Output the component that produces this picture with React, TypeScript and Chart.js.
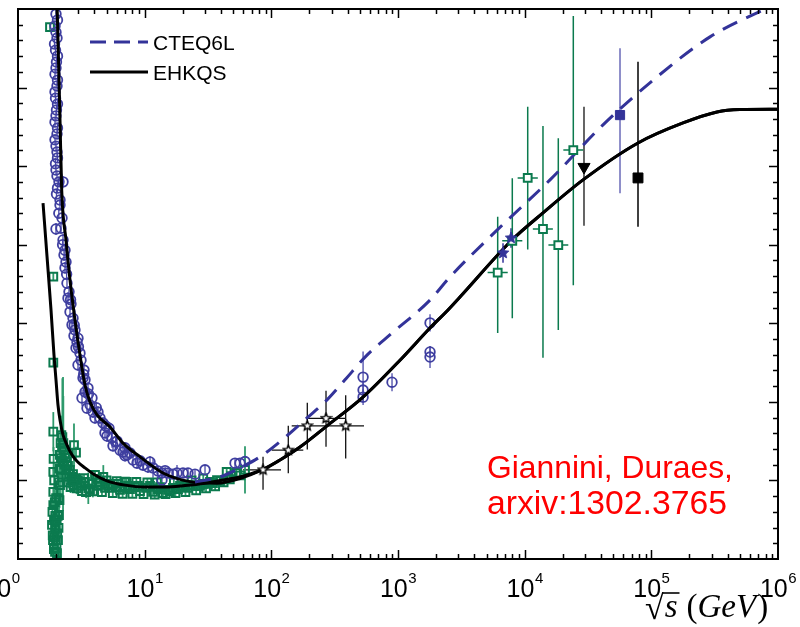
import React, { useEffect, useRef } from 'react';
import { Chart, registerables } from 'chart.js';

Chart.register(...registerables);

// ---------- data (sqrt(s) in GeV, sigma in mb) ----------
const X_TICK_VALUES = [1, 10, 100, 1e3, 1e4, 1e5, 1e6];
const X_TICK_EXPONENTS = ['0', '1', '2', '3', '4', '5', '6'];
const Y_MIN = 20;
const Y_MAX = 160;
const Y_MINOR = 4;
const Y_MAJOR = 20;

const LEGEND_LABELS = ['CTEQ6L', 'EHKQS'];
const NOTE_LINES = ['Giannini, Duraes,', 'arxiv:1302.3765'];

// CTEQ6L curve
const cteq6l: [number, number][] = [
  [24.97, 39.6], [39.33, 40.9], [56.58, 43.2], [81.39, 46.0], [121.4, 50.3], [191.2, 55.9],
  [275.2, 60.5], [381.5, 65.6], [569.2, 71.9], [896.9, 77.5], [1789, 85.9], [2574, 91.8],
  [6048, 103.7], [15850, 116.5], [41540, 130.5], [110800, 142.7], [290500, 152.9],
  [761500, 159.7], [1e6, 161.3],
];

// EHKQS curves: low-energy branches + common high-energy branch
const ehkqsPPLow: [number, number][] = [
  [1.576, 110.6], [1.694, 97.1], [1.822, 83.4], [1.924, 71.9], [1.995, 65.6], [2.069, 59.2],
  [2.146, 55.4], [2.267, 51.6], [2.436, 49.0], [2.669, 46.5], [2.923, 44.9], [3.381, 43.2],
  [4.054, 41.4], [5.042, 39.9], [6.994, 38.8], [10.06, 38.3], [14.47, 38.3], [20.82, 38.7],
  [29.95, 39.3], [43.08, 40.2], [59.75, 41.1],
];
const ehkqsPPbarLow: [number, number][] = [
  [2.03, 162.3], [2.088, 147.0], [2.146, 131.7], [2.213, 113.9], [2.393, 101.2], [2.574, 91.0],
  [2.818, 80.8], [3.086, 71.9], [3.381, 64.3], [3.702, 60.0], [4.205, 56.7], [5.325, 53.6],
  [6.746, 49.5], [9.188, 46.0], [13.95, 41.9], [22.8, 39.7], [37.24, 39.3], [56.58, 40.5],
];
const ehkqsCommon: [number, number][] = [
  [85.97, 42.8], [117.1, 45.2], [168.4, 48.5], [275.2, 53.9], [529.3, 61.2], [1037, 70.6],
  [1789, 78.8], [2482, 83.4], [3086, 86.7], [7943, 101.2], [13950, 108.1], [28880, 116.5],
  [78480, 125.9], [177800, 131.0], [330000, 133.8], [501200, 134.4], [1e6, 134.5],
];

// p-pbar data: [sqrt(s), sigma, error]
const ppbarData: [number, number, number][] = [
  [1.995, 158.7, 1.2], [2.05, 157.2, 1.2], [1.96, 155.7, 1.2], [1.995, 154.1, 1.2], [2.032, 152.6, 1.2],
  [1.942, 151.1, 1.2], [1.978, 149.5, 1.2], [2.05, 148.0, 1.2], [2.013, 146.5, 1.2], [1.995, 145.0, 1.2],
  [1.96, 143.4, 1.2], [2.05, 141.9, 1.2], [2.032, 140.4, 1.2], [1.96, 138.9, 1.2], [1.978, 137.3, 1.2],
  [2.05, 135.8, 1.2], [2.013, 134.3, 1.2], [1.995, 132.8, 1.2], [1.96, 131.2, 1.2], [2.05, 129.7, 1.2],
  [2.032, 128.2, 1.2], [1.96, 126.7, 1.2], [1.995, 125.1, 1.2], [2.032, 123.6, 1.2], [2.05, 122.1, 1.2],
  [1.978, 120.6, 1.2], [1.995, 119.0, 1.2], [2.032, 117.5, 1.2], [2.107, 116.0, 1.2], [2.267, 116.0, 1.5],
  [2.05, 114.4, 1.2], [2.013, 112.9, 1.2], [2.146, 111.4, 1.2], [2.146, 110.1, 1.2], [2.226, 106.8, 1.2],
  [2.185, 104.2, 1.2], [1.995, 104.0, 1.5], [2.267, 101.2, 1.5], [2.35, 98.6, 1.5], [2.308, 97.4, 1.5],
  [2.393, 95.6, 1.5], [2.35, 94.1, 1.5], [2.436, 90.2, 1.5], [2.527, 88.0, 1.5], [2.481, 86.4, 1.5],
  [2.62, 84.9, 1.5], [2.574, 82.9, 1.5], [2.718, 81.3, 1.5], [2.669, 79.6, 1.5], [2.818, 78.3, 1.5],
  [2.767, 76.8, 1.5], [2.976, 76.2, 1.5], [2.923, 75.2, 1.5], [2.87, 73.7, 1.5], [3.086, 72.4, 1.5],
  [3.144, 70.6, 1.5], [2.976, 69.4, 1.5], [3.319, 68.1, 1.5], [3.261, 66.1, 1.5], [3.381, 65.6, 1.5],
  [3.569, 63.5, 1.5], [3.381, 62.5, 1.5], [3.201, 61.0, 2], [3.839, 61.0, 1.5], [3.702, 59.2, 1.5],
  [3.505, 58.4, 1.5], [3.909, 57.4, 1.5], [4.281, 57.4, 1.5], [4.054, 55.9, 1.5], [4.44, 55.9, 1.5],
  [4.69, 54.6, 1.5], [5.228, 53.3, 1.5], [4.862, 52.1, 1.5], [5.042, 51.3, 1.5], [5.522, 50.8, 2.5],
  [6.047, 50.0, 1.5], [5.623, 48.8, 1.5], [6.994, 48.3, 1.5], [6.389, 47.7, 1.5], [6.746, 47.2, 1.5],
  [7.66, 47.0, 1.5], [7.253, 46.5, 1.5], [8.09, 45.2, 1.5], [11.02, 44.7, 1.5], [8.701, 44.4, 1.5],
  [9.701, 43.9, 1.5], [10.62, 43.4, 1.5], [11.64, 43.2, 2.5], [12.74, 42.4, 1], [13.7, 41.9, 1],
  [13.7, 40.1, 1], [15.29, 41.9, 1], [16.73, 41.6, 1], [18.0, 41.9, 2], [20.07, 41.9, 1],
  [21.98, 41.9, 1], [24.97, 41.6, 1], [29.95, 42.7, 1], [51.68, 44.4, 1], [56.58, 44.4, 1],
  [61.96, 44.8, 1], [530, 66.3, 6.5], [530, 63.0, 2], [530, 61.2, 2], [897, 65.0, 2.3],
  [1790, 80.1, 2.2], [1790, 72.7, 1.5], [1790, 71.4, 2.8],
  [2.1, 108.0, 1.2], [2.25, 100.0, 1.5], [2.42, 92.5, 1.5], [2.6, 86.0, 1.5], [2.78, 79.5, 1.5],
  [3.0, 74.0, 1.5], [3.3, 67.0, 1.5], [3.6, 62.0, 1.5], [4.15, 58.5, 1.5], [4.95, 53.8, 1.5],
  [5.9, 49.8, 1.5], [7.0, 46.3, 1.5], [9.2, 45.0, 1.5], [14.5, 42.5, 1],
];

// p-p accelerator data: [sqrt(s), sigma, error]
const ppData: [number, number, number][] = [
  [1.789, 155.4, 1], [1.9, 91.9, 1], [1.9, 70.0, 1], [1.9, 52.4, 5], [1.9, 42.2, 1], [1.9, 37.1, 1],
  [1.9, 33.7, 1], [1.855, 28.7, 1.5], [1.889, 24.8, 2], [1.924, 29.9, 2], [1.96, 27.4, 2], [1.96, 21.8, 1.5],
  [1.995, 24.8, 2], [2.013, 22.8, 1.5], [2.032, 21.5, 1.5], [2.069, 24.8, 2], [2.088, 27.9, 2],
  [2.107, 31.2, 2], [2.126, 35.0, 2], [2.146, 38.8, 2], [2.165, 42.7, 2], [2.185, 45.7, 2],
  [2.226, 48.3, 2], [2.267, 49.3, 17], [2.308, 47.7, 2], [2.35, 46.5, 2], [2.393, 45.7, 1.5],
  [2.436, 44.7, 1.5], [2.481, 43.7, 1.5], [2.574, 42.7, 1.5], [2.654, 40.9, 1], [2.718, 41.6, 1],
  [2.767, 49.0, 5.5], [2.87, 47.1, 1.5], [2.818, 40.6, 1], [2.976, 40.1, 1], [3.184, 39.3, 1],
  [3.381, 39.6, 1], [3.589, 38.0, 4], [3.839, 39.1, 1], [4.054, 41.4, 1], [4.281, 38.6, 1],
  [4.715, 40.9, 3], [4.862, 38.1, 1], [5.133, 38.6, 1], [5.522, 38.1, 1], [5.939, 38.3, 1],
  [6.389, 37.6, 1], [6.994, 39.7, 1], [6.994, 38.1, 1], [7.66, 37.8, 1], [8.389, 38.3, 1],
  [9.188, 37.3, 1], [10.24, 38.1, 1], [11.64, 37.1, 1], [12.74, 37.8, 1], [13.95, 36.8, 1],
  [15.29, 37.6, 1], [16.73, 38.1, 1], [18.33, 37.8, 1], [20.07, 38.3, 1], [21.98, 38.1, 1],
  [24.07, 38.6, 1], [26.37, 38.6, 1], [28.88, 39.1, 1], [31.62, 39.1, 1], [34.63, 39.3, 1],
  [39.33, 39.9, 1], [44.4, 42.2, 1], [48.04, 41.1, 1], [52.62, 41.9, 1], [61.96, 42.7, 6],
  [2.393, 42.7, 1], [2.527, 41.6, 1], [2.669, 40.1, 1], [3.086, 38.6, 1], [3.319, 40.6, 1],
  [3.702, 37.6, 1], [4.44, 39.6, 1], [5.325, 39.1, 1], [6.16, 39.1, 1], [7.387, 38.6, 1],
  [8.86, 38.6, 1], [11.02, 38.6, 1], [13.22, 38.3, 1], [15.85, 37.3, 1], [19.01, 38.6, 1],
  [22.8, 38.8, 1], [27.35, 38.6, 1], [32.8, 39.6, 1], [37.24, 40.1, 1],
  [1.91, 45.5, 3], [1.93, 40.0, 3], [1.95, 34.5, 3], [1.97, 31.0, 3], [1.99, 28.5, 3], [2.0, 35.5, 3],
  [2.02, 30.0, 3], [2.04, 26.5, 3], [2.06, 31.0, 3], [2.08, 35.5, 3], [2.1, 39.5, 3], [2.12, 43.0, 3],
  [2.14, 46.5, 3], [2.17, 49.5, 4], [2.2, 51.5, 5], [2.24, 51.0, 15], [2.28, 49.5, 12], [1.87, 32.0, 3],
  [1.88, 26.0, 3], [1.92, 22.5, 2], [1.94, 25.5, 3], [2.25, 45.0, 2], [2.32, 44.0, 2], [2.4, 41.0, 1.5],
  [2.5, 39.5, 1.5], [2.6, 38.3, 1.5], [2.75, 38.8, 1.5], [2.9, 38.0, 1.5], [3.2, 37.3, 1.5],
  [3.45, 37.0, 1.5], [3.9, 37.2, 1.5], [4.6, 37.0, 1], [5.6, 36.8, 1], [6.7, 36.6, 1], [8.0, 36.6, 1],
  [9.8, 36.5, 1], [12.0, 36.4, 1], [14.6, 36.5, 1], [17.5, 36.8, 1], [21.0, 37.0, 1], [25.5, 37.5, 1],
  [30.5, 38.0, 1], [36.0, 38.5, 1], [42.0, 39.5, 1], [47.0, 40.3, 1], [57.0, 41.3, 1],
  [4.2, 40.4, 1], [5.0, 40.0, 1], [6.0, 39.8, 1], [7.2, 39.6, 1], [8.6, 39.6, 1], [10.5, 39.5, 1],
  [12.5, 39.5, 1], [17.0, 39.8, 1], [23.5, 40.0, 1], [29.0, 40.5, 1],
];

// cosmic-ray p-p points: [sqrt(s), sigma, errUp, errDown, sLow, sHigh]
const cosmicData: [number, number, number, number, number, number][] = [
  [6124, 92.9, 14.2, 15.4, 5100, 7350],
  [7986, 101.0, 15.9, 19.7, 6650, 9580],
  [10570, 117.0, 18.1, 18.2, 8800, 12700],
  [13950, 104.0, 26.2, 32.8, 11600, 16700],
  [18430, 99.9, 27.2, 21.6, 15400, 22100],
  [24210, 124.1, 34.1, 34.4, 20200, 29000],
];

// stars (collider, 100-400 GeV): [sqrt(s), sigma, errUp, errDown, sLow, sHigh]
const starData: [number, number, number, number, number, number][] = [
  [86.0, 42.7, 3.3, 5.1, 59.75, 119.2],
  [136.1, 47.7, 6.2, 5.9, 100.7, 178.8],
  [192.3, 53.9, 5.9, 6.0, 144.8, 273.6],
  [270.2, 55.8, 7.0, 7.2, 192.3, 381.5],
  [386.4, 53.9, 7.8, 8.3, 270.2, 539],
];

// LHC points (blue stars)
const lhcData: [number, number, number, number, number, number][] = [
  [6746, 97.9, 2.5, 2.5, 6300, 7200],
  [7801, 101.7, 2.5, 2.5, 7300, 8300],
];

// high-energy single points
const augerBlue: [number, number, number, number][] = [[56580, 133.0, 17.0, 19.9]];
const blackSquare: [number, number, number, number][] = [[78480, 117.0, 29.6, 12.4]];
const blackTriangle: [number, number, number, number][] = [[29400, 119.8, 15.3, 15.0]];

// ---------- styles ----------
const NAVY = '#333399';
const CIRCLE_BLUE = '#3f3fa0';
const GREEN = '#0b7a4e';

function makeStar(size: number, fill: string, stroke: string, lw: number) {
  const c = document.createElement('canvas');
  c.width = size;
  c.height = size;
  const g = c.getContext('2d')!;
  const cx = size / 2, cy = size / 2;
  const R = size / 2 - lw, r = R * 0.45;
  g.beginPath();
  for (let i = 0; i < 10; i++) {
    const ang = -Math.PI / 2 + (i * Math.PI) / 5;
    const rad = i % 2 === 0 ? R : r;
    const px = cx + rad * Math.cos(ang), py = cy + rad * Math.sin(ang);
    if (i === 0) g.moveTo(px, py); else g.lineTo(px, py);
  }
  g.closePath();
  g.fillStyle = fill;
  g.fill();
  g.lineWidth = lw;
  g.strokeStyle = stroke;
  g.stroke();
  return c;
}

const errorBarPlugin = {
  id: 'errorBars',
  beforeDatasetsDraw(chart: any) {
    const { ctx, chartArea: a, scales } = chart;
    const x = scales.x, y = scales.y;
    ctx.save();
    ctx.beginPath();
    ctx.rect(a.left, a.top, a.right - a.left, a.bottom - a.top);
    ctx.clip();
    chart.data.datasets.forEach((ds: any) => {
      if (!ds.errUp) return;
      ctx.strokeStyle = ds.errColor;
      ctx.lineWidth = ds.errWidth || 1.2;
      ds.data.forEach((p: any, i: number) => {
        const px = x.getPixelForValue(p.x);
        const py = y.getPixelForValue(p.y);
        ctx.beginPath();
        ctx.moveTo(px, y.getPixelForValue(p.y - ds.errDown[i]));
        ctx.lineTo(px, y.getPixelForValue(p.y + ds.errUp[i]));
        if (ds.sLow) {
          ctx.moveTo(x.getPixelForValue(ds.sLow[i]), py);
          ctx.lineTo(x.getPixelForValue(ds.sHigh[i]), py);
        }
        ctx.stroke();
      });
    });
    ctx.restore();
  },
};

const decorPlugin = {
  id: 'decor',
  afterDraw(chart: any) {
    const { ctx, chartArea: a, scales } = chart;
    const x = scales.x, y = scales.y;
    ctx.save();
    // frame
    ctx.strokeStyle = '#000';
    ctx.lineWidth = 2;
    ctx.strokeRect(a.left, a.top, a.right - a.left, a.bottom - a.top);
    // ticks (inward)
    ctx.lineWidth = 1.5;
    ctx.beginPath();
    for (let k = 0; k < 6; k++) {
      for (let m = 1; m < 10; m++) {
        const v = m * Math.pow(10, k);
        if (v <= 1) continue;
        const px = Math.round(x.getPixelForValue(v)) + 0.5;
        const len = m === 1 ? 9 : 5;
        ctx.moveTo(px, a.bottom); ctx.lineTo(px, a.bottom - len);
        ctx.moveTo(px, a.top); ctx.lineTo(px, a.top + len);
      }
    }
    for (let v = Y_MIN + Y_MINOR; v < Y_MAX; v += Y_MINOR) {
      const py = Math.round(y.getPixelForValue(v)) + 0.5;
      const len = (v - Y_MIN) % Y_MAJOR === 0 ? 9 : 5;
      ctx.moveTo(a.left, py); ctx.lineTo(a.left + len, py);
      ctx.moveTo(a.right, py); ctx.lineTo(a.right - len, py);
    }
    ctx.stroke();

    // x tick labels 10^n
    ctx.fillStyle = '#000';
    ctx.textBaseline = 'alphabetic';
    ctx.textAlign = 'left';
    X_TICK_VALUES.forEach((v, i) => {
      const px = x.getPixelForValue(v);
      ctx.font = '25px "Liberation Sans", Arial, sans-serif';
      const w1 = ctx.measureText('10').width;
      ctx.font = '15px "Liberation Sans", Arial, sans-serif';
      const w2 = ctx.measureText(X_TICK_EXPONENTS[i]).width;
      let start = px - (w1 + w2) / 2;
      if (i === 0) start -= 16.5;
      ctx.font = '25px "Liberation Sans", Arial, sans-serif';
      ctx.fillText('10', start, 597);
      ctx.font = '15px "Liberation Sans", Arial, sans-serif';
      ctx.fillText(X_TICK_EXPONENTS[i], start + w1 + 0.5, 583);
    });

    // axis title: sqrt(s) (GeV)
    let cx = 645;
    const base = 617;
    ctx.font = '34px "Liberation Serif", "DejaVu Serif", serif';
    const rm = ctx.measureText('\u221A');
    ctx.fillText('\u221A', cx, base + 2);
    const topY = base + 2 - rm.actualBoundingBoxAscent + 1;
    const barStart = cx + rm.actualBoundingBoxRight - 1.5;
    cx += rm.width;
    ctx.font = 'italic 33px "Liberation Serif", "DejaVu Serif", serif';
    ctx.fillText('s', cx + 1, base);
    const sw = ctx.measureText('s').width;
    ctx.lineWidth = 1.6;
    ctx.beginPath();
    ctx.moveTo(barStart, topY);
    ctx.lineTo(cx + sw + 3, topY);
    ctx.stroke();
    cx += sw + 10;
    ctx.font = '33px "Liberation Serif", "DejaVu Serif", serif';
    ctx.fillText('(', cx, base);
    cx += ctx.measureText('(').width;
    ctx.font = 'italic 33px "Liberation Serif", "DejaVu Serif", serif';
    ctx.fillText('GeV', cx, base);
    cx += ctx.measureText('GeV').width + 1;
    ctx.font = '33px "Liberation Serif", "DejaVu Serif", serif';
    ctx.fillText(')', cx, base);

    // legend
    ctx.lineWidth = 3;
    ctx.strokeStyle = NAVY;
    ctx.setLineDash([16, 8]);
    ctx.beginPath();
    ctx.moveTo(90, 42); ctx.lineTo(148, 42);
    ctx.stroke();
    ctx.setLineDash([]);
    ctx.strokeStyle = '#000';
    ctx.beginPath();
    ctx.moveTo(90, 72); ctx.lineTo(148, 72);
    ctx.stroke();
    ctx.font = '21px "Liberation Sans", Arial, sans-serif';
    ctx.fillStyle = '#000';
    ctx.fillText(LEGEND_LABELS[0], 153, 50);
    ctx.fillText(LEGEND_LABELS[1], 153, 80);

    // red annotation
    ctx.fillStyle = '#ff0000';
    const targets = [246, 240];
    const baselines = [478, 514];
    NOTE_LINES.forEach((t, i) => {
      ctx.font = '100px "Liberation Sans", Arial, sans-serif';
      const w = ctx.measureText(t).width;
      const size = (100 * targets[i]) / w;
      ctx.font = `${size.toFixed(2)}px "Liberation Sans", Arial, sans-serif`;
      ctx.fillText(t, 487, baselines[i]);
    });
    ctx.restore();
  },
};

export default function App() {
  const ref = useRef<HTMLCanvasElement | null>(null);
  useEffect(() => {
    document.body.style.margin = '0';
    const canvas = ref.current!;
    const blackStar = makeStar(13, '#ffffff', '#000000', 1.4);
    const blueStar = makeStar(14, NAVY, NAVY, 1);
    const xy = (rows: any[]) => rows.map((r) => ({ x: r[0], y: r[1] }));
    const chart = new Chart(canvas, {
      type: 'scatter',
      data: {
        datasets: [
          {
            label: 'Auger', data: xy(augerBlue), pointStyle: 'rect', pointRadius: 6.5,
            backgroundColor: NAVY, borderColor: NAVY, borderWidth: 1,
            errUp: augerBlue.map((r) => r[2]), errDown: augerBlue.map((r) => r[3]), errColor: '#6a6ab8', errWidth: 1.5,
          } as any,
          {
            label: 'black square', data: xy(blackSquare), pointStyle: 'rect', pointRadius: 7,
            backgroundColor: '#000', borderColor: '#000', borderWidth: 1,
            errUp: blackSquare.map((r) => r[2]), errDown: blackSquare.map((r) => r[3]), errColor: '#000', errWidth: 1.5,
          } as any,
          {
            label: 'triangle', data: xy(blackTriangle), pointStyle: 'triangle', rotation: 180, pointRadius: 7,
            backgroundColor: '#000', borderColor: '#000', borderWidth: 1,
            errUp: blackTriangle.map((r) => r[2]), errDown: blackTriangle.map((r) => r[3]), errColor: '#555', errWidth: 1.8,
          } as any,
          {
            label: 'LHC', data: xy(lhcData), pointStyle: blueStar, pointRadius: 7,
            errUp: lhcData.map((r) => r[2]), errDown: lhcData.map((r) => r[3]),
            sLow: lhcData.map((r) => r[4]), sHigh: lhcData.map((r) => r[5]), errColor: NAVY, errWidth: 1.5,
          } as any,
          {
            label: 'cosmic', data: xy(cosmicData), pointStyle: 'rect', pointRadius: 5.5,
            backgroundColor: '#ffffff', borderColor: GREEN, borderWidth: 2,
            errUp: cosmicData.map((r) => r[2]), errDown: cosmicData.map((r) => r[3]),
            sLow: cosmicData.map((r) => r[4]), sHigh: cosmicData.map((r) => r[5]), errColor: GREEN, errWidth: 1.5,
          } as any,
          {
            label: 'stars', data: xy(starData), pointStyle: blackStar, pointRadius: 6,
            errUp: starData.map((r) => r[2]), errDown: starData.map((r) => r[3]),
            sLow: starData.map((r) => r[4]), sHigh: starData.map((r) => r[5]), errColor: '#111', errWidth: 1.3,
          } as any,
          {
            label: 'CTEQ6L', data: xy(cteq6l), showLine: true, borderColor: NAVY, borderWidth: 3,
            borderDash: [16, 10], pointRadius: 0, cubicInterpolationMode: 'monotone', fill: false,
          } as any,
          {
            label: 'EHKQS pp', data: xy([...ehkqsPPLow, ...ehkqsCommon]), showLine: true, borderColor: '#000',
            borderWidth: 3, pointRadius: 0, cubicInterpolationMode: 'monotone', fill: false,
          } as any,
          {
            label: 'EHKQS ppbar', data: xy([...ehkqsPPbarLow, ...ehkqsCommon]), showLine: true, borderColor: '#000',
            borderWidth: 3, pointRadius: 0, cubicInterpolationMode: 'monotone', fill: false,
          } as any,
          {
            label: 'ppbar', data: xy(ppbarData), pointStyle: 'circle', pointRadius: 4.8,
            backgroundColor: 'rgba(0,0,0,0)', borderColor: CIRCLE_BLUE, borderWidth: 1.8,
            errUp: ppbarData.map((r) => r[2]), errDown: ppbarData.map((r) => r[2]), errColor: '#4a4aa8', errWidth: 1.3,
          } as any,
          {
            label: 'pp', data: xy(ppData), pointStyle: 'rect', pointRadius: 5.5,
            backgroundColor: 'rgba(0,0,0,0)', borderColor: GREEN, borderWidth: 2,
            errUp: ppData.map((r) => r[2]), errDown: ppData.map((r) => r[2]), errColor: '#2e9a6c', errWidth: 1.8,
          } as any,
        ],
      },
      options: {
        responsive: false,
        animation: false,
        layout: { padding: { left: 18, top: 9, right: 22, bottom: 68 } },
        scales: {
          x: { type: 'logarithmic', min: 1, max: 1e6, display: false },
          y: { type: 'linear', min: Y_MIN, max: Y_MAX, display: false },
        },
        plugins: { legend: { display: false }, tooltip: { enabled: false } },
      },
      plugins: [errorBarPlugin, decorPlugin],
    });
    return () => chart.destroy();
  }, []);
  return <canvas ref={ref} width={800} height={627} style={{ display: 'block' }} />;
}
